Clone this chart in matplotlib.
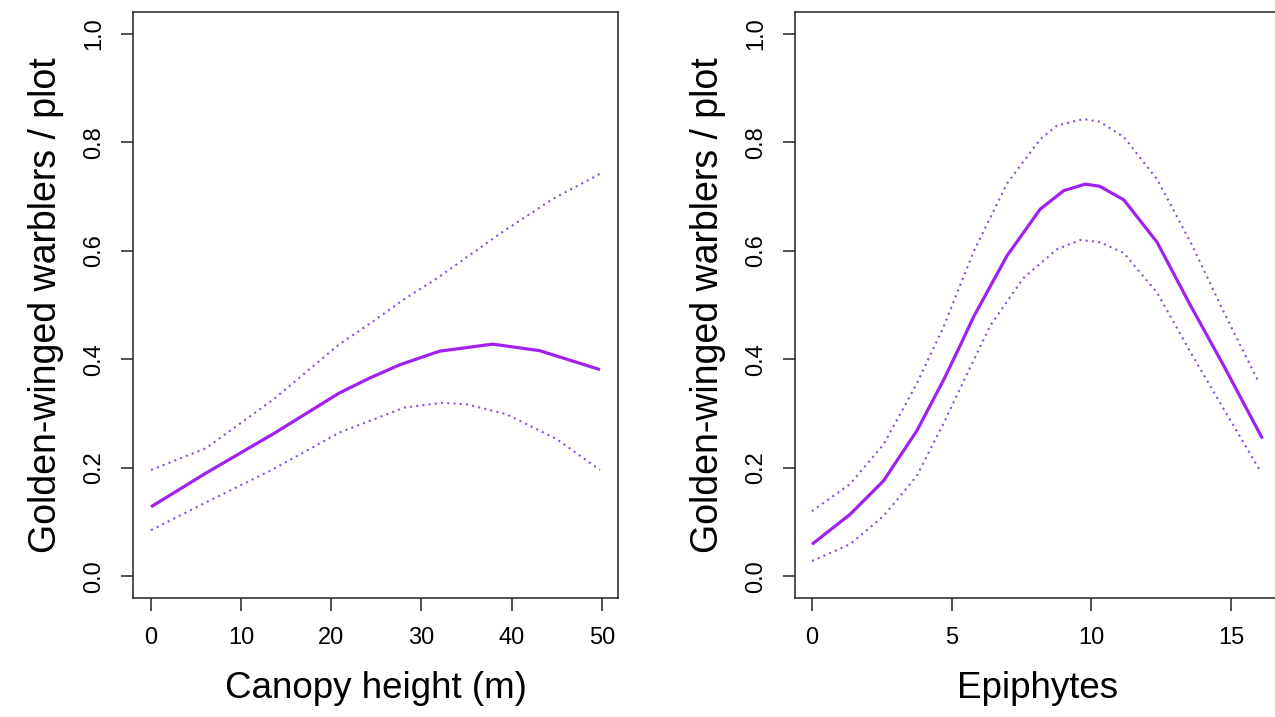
import matplotlib.pyplot as plt

# canopy height panel
canopy_x = [0, 6.07, 13.5, 20.9, 24.2, 27.6, 32.0, 37.9, 43.1, 49.8]
canopy_fit = [0.128, 0.190, 0.262, 0.338, 0.365, 0.390, 0.415, 0.428, 0.416, 0.381]
canopy_up_x = [0, 6.07, 13.5, 20.9, 24.2, 28.1, 31.6, 39.0, 44.6, 49.8]
canopy_up = [0.196, 0.236, 0.325, 0.428, 0.465, 0.511, 0.548, 0.635, 0.696, 0.742]
canopy_lo_x = [0, 6.07, 13.5, 20.9, 28.1, 32.4, 35.0, 39.4, 45.0, 49.8]
canopy_lo = [0.085, 0.136, 0.197, 0.265, 0.311, 0.320, 0.317, 0.299, 0.253, 0.196]

# epiphytes panel
epi_x = [0, 1.36, 2.56, 3.75, 4.71, 5.30, 5.78, 6.98, 8.17, 9.01, 9.78,
         10.3, 11.16, 12.35, 13.55, 14.74, 16.12]
epi_fit = [0.059, 0.114, 0.176, 0.268, 0.362, 0.425, 0.478, 0.591, 0.677, 0.711, 0.723,
           0.719, 0.694, 0.616, 0.499, 0.388, 0.254]
epi_up_x = [0, 1.36, 2.56, 3.75, 4.71, 5.78, 6.98, 8.17, 8.77, 9.72,
            10.3, 11.16, 12.35, 13.55, 14.74, 16.0]
epi_up = [0.120, 0.170, 0.243, 0.355, 0.460, 0.598, 0.724, 0.806, 0.831, 0.843,
          0.838, 0.810, 0.732, 0.616, 0.487, 0.357]
epi_lo_x = [0, 1.36, 2.56, 3.75, 4.71, 5.54, 6.38, 7.57, 8.77, 9.61,
            10.3, 11.16, 12.35, 13.55, 14.74, 16.06]
epi_lo = [0.028, 0.059, 0.111, 0.185, 0.282, 0.372, 0.462, 0.550, 0.603, 0.620,
          0.616, 0.596, 0.523, 0.413, 0.308, 0.193]

ylab = "Golden-winged warblers / plot"
purple = "#A020F0"
dotcol = "#8F4FD6"

plt.rcParams["font.family"] = ["Liberation Sans", "DejaVu Sans"]

fig = plt.figure(figsize=(12.75, 7.17), dpi=100)
ax1 = fig.add_axes([0.1043, 0.166, 0.3804, 0.817])
ax2 = fig.add_axes([0.6235, 0.166, 0.3804, 0.817])

panels = [
    (ax1, canopy_x, canopy_fit, canopy_up_x, canopy_up, canopy_lo_x, canopy_lo,
     "Canopy height (m)", [0, 10, 20, 30, 40, 50], (-2.0, 51.8)),
    (ax2, epi_x, epi_fit, epi_up_x, epi_up, epi_lo_x, epi_lo,
     "Epiphytes", [0, 5, 10, 15], (-0.61, 16.75)),
]

for ax, x, fit, ux, up, lx, lo, xlab, xt, xl in panels:
    ax.plot(x, fit, color=purple, lw=2.3, solid_capstyle="butt", solid_joinstyle="round")
    ax.plot(ux, up, color=dotcol, lw=1.5, linestyle=(0, (1, 2)))
    ax.plot(lx, lo, color=dotcol, lw=1.5, linestyle=(0, (1, 2)))
    ax.set_xlim(*xl)
    ax.set_ylim(-0.04, 1.04)
    ax.set_xticks(xt)
    ax.set_yticks([0.0, 0.2, 0.4, 0.6, 0.8, 1.0])
    ax.set_yticklabels(["0.0", "0.2", "0.4", "0.6", "0.8", "1.0"])
    ax.tick_params(direction="out", length=9, width=1.1, labelsize=17,
                   color="#222222", pad=12)
    ax.tick_params(axis="y", pad=11)
    plt.setp(ax.get_yticklabels(), rotation=90, va="center")
    for s in ax.spines.values():
        s.set_linewidth(1.1)
        s.set_color("#222222")
    ax.set_xlabel(xlab, fontsize=26.5, labelpad=16)
    ax.set_ylabel(ylab, fontsize=27, labelpad=14)

fig.savefig("out.png", dpi=100)
